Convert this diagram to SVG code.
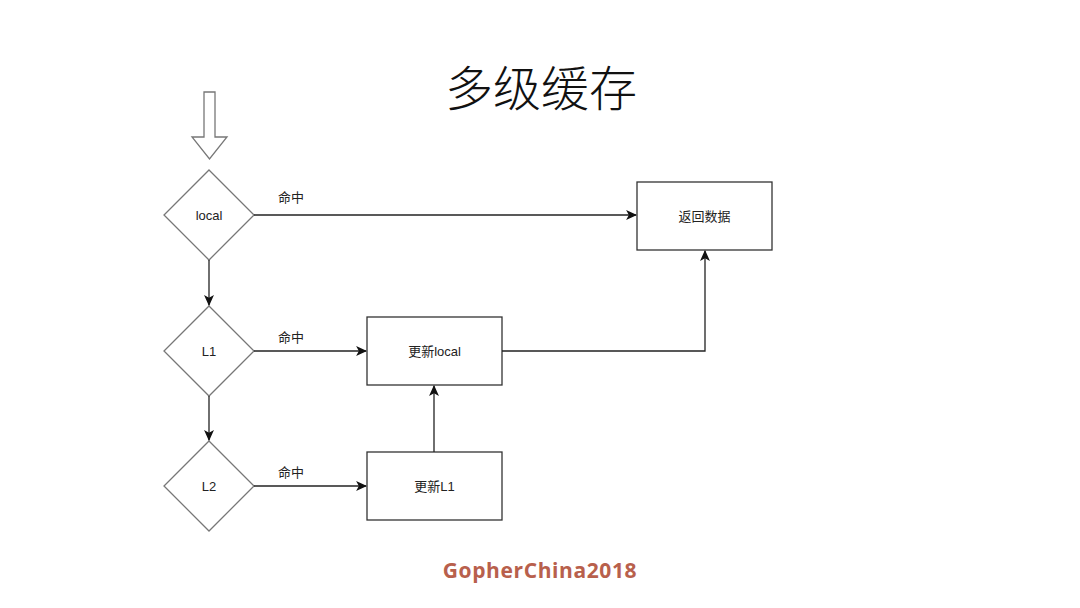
<svg xmlns="http://www.w3.org/2000/svg" width="1080" height="608" viewBox="0 0 1080 608">
<defs>
<marker id="ah" viewBox="0 0 10 10" refX="9" refY="5" markerWidth="11" markerHeight="11" markerUnits="userSpaceOnUse" orient="auto">
<path d="M0,0.5 L10,5 L0,9.5 L2.5,5 Z" fill="#111"/>
</marker>
<style>
.shape{fill:#fff;stroke:#333;stroke-width:1.3}
.dia{fill:#fff;stroke:#777;stroke-width:1.3}
.lbl{font-family:"Liberation Sans","Noto Sans CJK SC",sans-serif;font-size:13px;fill:#222;text-anchor:middle}
.edge{fill:none;stroke:#222;stroke-width:1.3}
</style>
</defs>
<rect width="1080" height="608" fill="#fff"/>
<text x="541" y="106" font-family="'Noto Sans CJK SC',sans-serif" font-weight="300" font-size="48" text-anchor="middle" fill="#111">多级缓存</text>
<g id="start">
<path class="dia" d="M204,92 H215 V137 H227 L209.5,159 L192,137 H204 Z"/>
</g>
<g id="local">
<polygon class="dia" points="209,170 254,215 209,260 164,215"/>
<text class="lbl" x="209" y="219.5">local</text>
</g>
<g id="L1">
<polygon class="dia" points="209,306 254,351 209,396 164,351"/>
<text class="lbl" x="209" y="355.5">L1</text>
</g>
<g id="L2">
<polygon class="dia" points="209,441 254,486 209,531 164,486"/>
<text class="lbl" x="209" y="490.5">L2</text>
</g>
<g id="return">
<rect class="shape" x="637" y="182" width="135" height="68"/>
<text class="lbl" x="704.5" y="220.5">返回数据</text>
</g>
<g id="updLocal">
<rect class="shape" x="367" y="317" width="135" height="68"/>
<text class="lbl" x="434.5" y="355.5">更新local</text>
</g>
<g id="updL1">
<rect class="shape" x="367" y="452" width="135" height="68"/>
<text class="lbl" x="434.5" y="490.5">更新L1</text>
</g>
<g id="connectors">
<path class="edge" d="M254,215 H636" marker-end="url(#ah)"/>
<path class="edge" d="M209,260 V305" marker-end="url(#ah)"/>
<path class="edge" d="M209,396 V440" marker-end="url(#ah)"/>
<path class="edge" d="M254,351 H366" marker-end="url(#ah)"/>
<path class="edge" d="M254,486 H366" marker-end="url(#ah)"/>
<path class="edge" d="M434,452 V386" marker-end="url(#ah)"/>
<path class="edge" d="M502,351 H705 V251" marker-end="url(#ah)"/>
<text class="lbl" x="291" y="202">命中</text>
<text class="lbl" x="291" y="342">命中</text>
<text class="lbl" x="291" y="477">命中</text>
</g>
<text x="540" y="578" font-family="'Open Sans','Liberation Sans',sans-serif" font-weight="bold" font-size="21" letter-spacing="0.6" text-anchor="middle" fill="#b8604c">GopherChina2018</text>
</svg>
